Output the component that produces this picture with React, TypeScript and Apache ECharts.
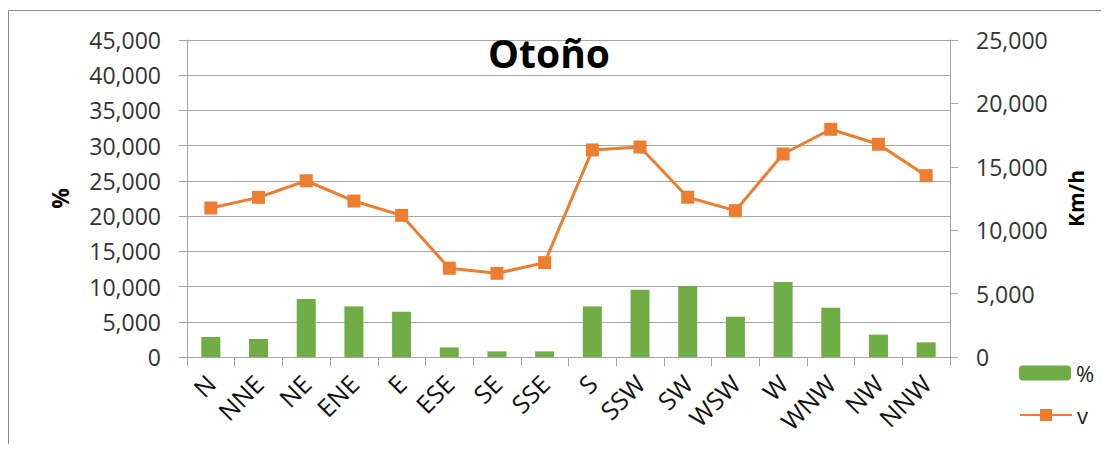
import React, { useEffect, useRef } from "react";
import * as echarts from "echarts";

const categories = ["N", "NNE", "NE", "ENE", "E", "ESE", "SE", "SSE", "S", "SSW", "SW", "WSW", "W", "WNW", "NW", "NNW"];
const percentValues = [2840, 2560, 8230, 7180, 6430, 1360, 800, 800, 7180, 9550, 10080, 5720, 10650, 7000, 3170, 2080];
const speedValues = [11750, 12590, 13900, 12300, 11170, 7000, 6600, 7440, 16330, 16560, 12600, 11540, 16010, 17960, 16780, 14300];
const leftTicks = { min: 0, max: 45000, interval: 5000 };
const rightTicks = { min: 0, max: 25000, interval: 5000 };

const fmt = (v: number) => {
  const s = String(Math.round(v));
  return s.replace(/\B(?=(\d{3})+(?!\d))/g, ",");
};

const FONT = "Open Sans";
const TEXT = "#333333";
const GRID = "#A6A6A6";

export default function App() {
  const ref = useRef<HTMLDivElement>(null);
  useEffect(() => {
    if (!ref.current) return;
    const chart = echarts.init(ref.current, null, { renderer: "svg" });
    const legendText = { fontFamily: FONT, fontSize: 22, color: "#222", lineHeight: 22 };
    chart.setOption({
      animation: false,
      textStyle: { fontFamily: FONT },
      graphic: [
        {
          type: "rect",
          shape: { x: 0, y: 0, width: 1300, height: 600 },
          x: 0.5,
          y: 2.5,
          style: { fill: "none", stroke: "#8c8c8c", lineWidth: 1 },
          silent: true,
        },
      ],
      title: {
        text: "Otoño",
        left: 536,
        top: 20,
        textAlign: "center",
        textStyle: { fontFamily: FONT, fontWeight: "bold", fontSize: 39, color: "#000" },
      },
      grid: { left: 179, right: 151, top: 32, bottom: 87, containLabel: false },
      legend: [
        {
          orient: "vertical",
          left: 1006,
          top: 349,
          itemWidth: 52,
          itemHeight: 15,
          textStyle: legendText,
          data: ["%"],
        },
        {
          orient: "vertical",
          left: 1006,
          top: 391,
          itemWidth: 52,
          itemHeight: 15,
          textStyle: legendText,
          data: ["v"],
        },
      ],
      xAxis: {
        type: "category",
        data: categories,
        boundaryGap: true,
        axisLine: { lineStyle: { color: GRID } },
        axisTick: { show: true, length: 9, lineStyle: { color: GRID } },
        axisLabel: { rotate: 45, fontSize: 25, color: "#111", margin: 22, interval: 0, fontFamily: FONT },
      },
      yAxis: [
        {
          type: "value",
          min: leftTicks.min,
          max: leftTicks.max,
          interval: leftTicks.interval,
          name: "%",
          nameLocation: "middle",
          nameRotate: 90,
          nameGap: 116,
          nameTextStyle: { fontFamily: FONT, fontWeight: "bold", fontSize: 23, color: "#000" },
          axisLine: { show: true, lineStyle: { color: GRID } },
          axisTick: { show: true, length: 8, lineStyle: { color: GRID } },
          axisLabel: { formatter: fmt, fontSize: 23, color: TEXT, margin: 26, fontFamily: FONT },
          splitLine: { show: true, lineStyle: { color: GRID, width: 1 } },
        },
        {
          type: "value",
          min: rightTicks.min,
          max: rightTicks.max,
          interval: rightTicks.interval,
          name: "Km/h",
          nameLocation: "middle",
          nameRotate: 90,
          nameGap: 115,
          nameTextStyle: { fontFamily: FONT, fontWeight: "bold", fontSize: 21, color: "#000" },
          axisLine: { show: true, lineStyle: { color: GRID } },
          axisTick: { show: true, length: 8, lineStyle: { color: GRID } },
          axisLabel: { formatter: fmt, fontSize: 23, color: TEXT, margin: 26, fontFamily: FONT },
          splitLine: { show: false },
        },
      ],
      series: [
        {
          name: "%",
          type: "bar",
          yAxisIndex: 0,
          data: percentValues,
          barWidth: 19,
          itemStyle: { color: "#70AD47" },
        },
        {
          name: "v",
          type: "line",
          yAxisIndex: 1,
          data: speedValues,
          symbol: "rect",
          symbolSize: 13,
          lineStyle: { color: "#ED7D31", width: 3 },
          itemStyle: { color: "#ED7D31" },
        },
      ],
    });
    return () => chart.dispose();
  }, []);
  return <div ref={ref} style={{ width: 1093, height: 436 }} />;
}
